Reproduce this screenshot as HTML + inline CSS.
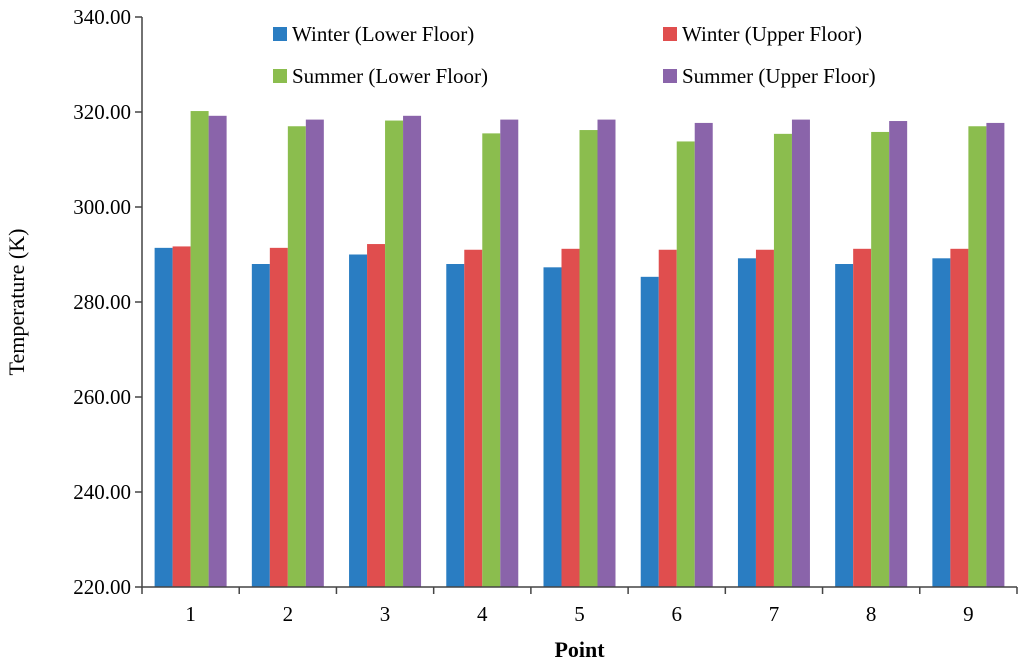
<!DOCTYPE html>
<html><head><meta charset="utf-8"><style>
body{margin:0;background:#fff;}
svg{display:block;font-family:"Liberation Serif",serif;}
</style></head><body>
<svg id="c" width="1024" height="664"></svg>
<script>
const categories=["1","2","3","4","5","6","7","8","9"];
const winterLower=[291.4,288.0,290.0,288.0,287.3,285.3,289.2,288.0,289.2];
const winterUpper=[291.7,291.4,292.2,291.0,291.2,291.0,291.0,291.2,291.2];
const summerLower=[320.2,317.0,318.2,315.5,316.2,313.8,315.4,315.8,317.0];
const summerUpper=[319.2,318.4,319.2,318.4,318.4,317.7,318.4,318.1,317.7];
const yTicks=[220,240,260,280,300,320,340];
const seriesNames=["Winter (Lower Floor)","Winter (Upper Floor)","Summer (Lower Floor)","Summer (Upper Floor)"];
const colors=["#2a7dc2","#e04e4e","#8bbd4e","#8a64aa"];
const S="http://www.w3.org/2000/svg";
const svg=document.getElementById('c');
const L=142,R=1017,T=17,B=587,ymin=220,ymax=340;
const y=v=>B-(v-ymin)/(ymax-ymin)*(B-T);
const cw=(R-L)/categories.length;
const x=i=>L+i*cw;
function mk(t,a,txt){const e=document.createElementNS(S,t);for(const k in a)e.setAttribute(k,a[k]);if(txt!==undefined)e.textContent=txt;svg.appendChild(e);return e;}
const data=[winterLower,winterUpper,summerLower,summerUpper];
const bw=18;
data.forEach((ser,s)=>{ser.forEach((v,i)=>{
 const bx=x(i)+cw/2-2*bw+s*bw;
 const r=mk('rect',{x:bx,y:y(v),width:bw,height:B-y(v),fill:colors[s]});
 
 
});});
const ax=mk('path',{d:`M${L},${T}V${B}H${R}`,stroke:'#444',fill:'none','stroke-width':1.5});


yTicks.forEach(t=>{
 mk('line',{x1:L-7,x2:L,y1:y(t),y2:y(t),stroke:'#444','stroke-width':1.5});
 const tx=mk('text',{x:L-11,y:y(t)+7,'text-anchor':'end','font-size':21},t.toFixed(2));
 
 
});
categories.forEach((c,i)=>{
 mk('line',{x1:x(i),x2:x(i),y1:B,y2:B+7,stroke:'#444','stroke-width':1.5});
 const tx=mk('text',{x:x(i)+cw/2,y:B+34,'text-anchor':'middle','font-size':21},c);
 
 
});
mk('line',{x1:R,x2:R,y1:B,y2:B+7,stroke:'#444','stroke-width':1.5});
const xt=mk('text',{x:(L+R)/2,y:657,'text-anchor':'middle','font-size':22,'font-weight':'bold'},'Point');


const yt=mk('text',{x:0,y:0,'text-anchor':'middle','font-size':22,transform:`translate(24,${(T+B)/2}) rotate(-90)`},'Temperature (K)');


const lp=[[273,34],[663,34],[273,76],[663,76]];
seriesNames.forEach((n,s)=>{
 const sw=mk('rect',{x:lp[s][0],y:lp[s][1]-7,width:14,height:14,fill:colors[s]});
 
 
 const tx=mk('text',{x:lp[s][0]+19,y:lp[s][1]+7,'font-size':21},n);
 
 
});
</script>
</body></html>
